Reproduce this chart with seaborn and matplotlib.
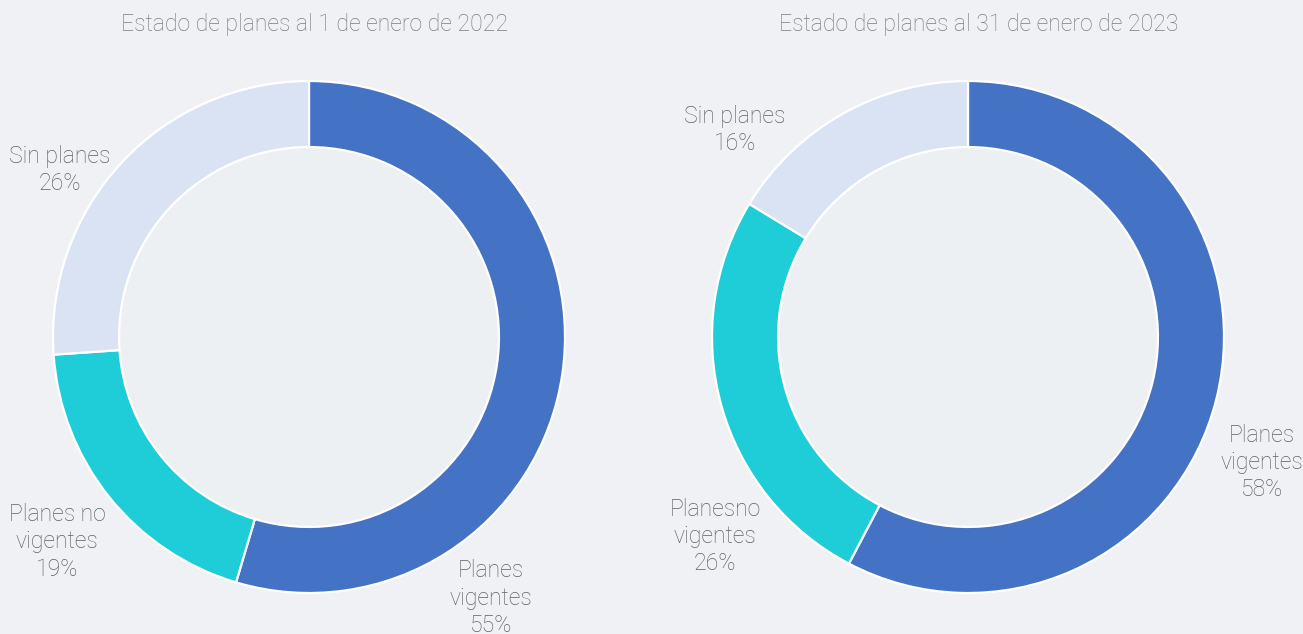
import matplotlib
matplotlib.use("Agg")
import matplotlib.pyplot as plt
import seaborn as sns

# Data
titles = ["Estado de planes al 1 de enero de 2022",
          "Estado de planes al 31 de enero de 2023"]
labels_2022 = ["Planes\nvigentes", "Planes no\nvigentes", "Sin planes"]
labels_2023 = ["Planes\nvigentes", "Planesno\nvigentes", "Sin planes"]
values_2022 = [54.6, 19.3, 26.1]
values_2023 = [57.7, 26.0, 16.3]

colors = ["#4472c4", "#1fcdd8", "#dae3f3"]
bg = "#f0f1f5"
hole = "#edf0f3"
txt = "#606060"

sns.set_theme(style="white")
plt.rcParams['font.family'] = ['Roboto', 'DejaVu Sans']

W, H, R = 1303, 634, 256.0
fig = plt.figure(figsize=(W / 100, H / 100), dpi=100, facecolor=bg)
ax = fig.add_axes([0, 0, 1, 1])
ax.set_facecolor(bg)

# donut centres in radius units
centres = [(309 / R, (H - 337) / R), (968 / R, (H - 337) / R)]
# label offsets from centre (radius units)
label_pos = [
    [(0.711, -1.02), (-0.984, -0.80), (-0.973, 0.652)],
    [(1.148, -0.49), (-0.988, -0.78), (-0.910, 0.809)],
]

for i, (vals, labs) in enumerate([(values_2022, labels_2022), (values_2023, labels_2023)]):
    cx, cy = centres[i]
    ax.pie(vals, colors=colors, startangle=90, counterclock=False,
           center=(cx, cy), radius=1,
           wedgeprops=dict(width=0.258, edgecolor="white", linewidth=1.6))
    ax.add_patch(plt.Circle((cx, cy), 1 - 0.258 - 0.004, color=hole, zorder=0.5))
    for (dx, dy), lab, v in zip(label_pos[i], labs, vals):
        ax.text(cx + dx, cy + dy, f"{lab}\n{round(v)}%", ha="center", va="center",
                fontsize=16.6, color=txt, fontweight="light", linespacing=1.24)
    ax.text(cx + (0.02 if i == 0 else 0.04), (H - 25) / R, titles[i], ha="center",
            va="center", fontsize=16.6, color="#7c7c7c", fontweight="light")

ax.set_xlim(0, W / R)
ax.set_ylim(0, H / R)
ax.set_aspect("equal")
ax.axis("off")

fig.savefig("out.png", dpi=100, facecolor=bg)
